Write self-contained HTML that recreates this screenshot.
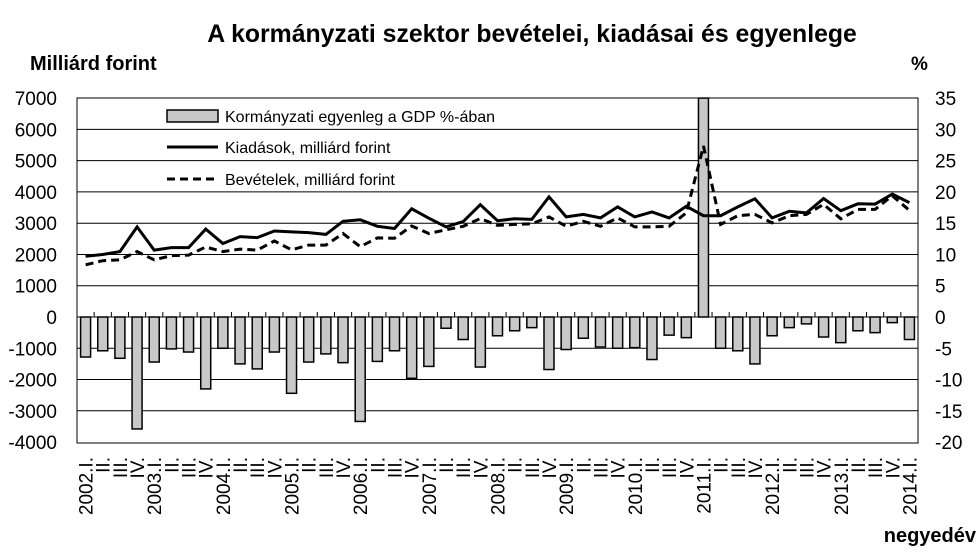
<!DOCTYPE html>
<html><head><meta charset="utf-8"><style>
body{margin:0;background:#fff}
svg{display:block;font-family:"Liberation Sans",Arial,sans-serif}
</style></head><body>
<svg id="s" width="980" height="559" viewBox="0 0 980 559" xmlns="http://www.w3.org/2000/svg">
<text x="532" y="42" text-anchor="middle" font-size="24.8" font-weight="bold">A kormányzati szektor bevételei, kiadásai és egyenlege</text>
<text x="30" y="70" font-size="20" font-weight="bold">Milliárd  forint</text>
<text x="911" y="70" font-size="19" font-weight="bold">%</text>
<text x="976" y="542" text-anchor="end" font-size="20" font-weight="bold">negyedév</text>
<g id="g"></g>
</svg>
<script>
var g=document.getElementById('g'),h='';
var L=77,R=918,T=98,B=443,Z=317,pk=31.27,cw=(R-L)/49;
function y(v){return Z-v/1000*pk}
for(var v=-4000;v<=7000;v+=1000){var yy=y(v);
 if(v!=7000&&v!=-4000)h+='<line x1="'+L+'" x2="'+R+'" y1="'+yy+'" y2="'+yy+'" stroke="#000" stroke-width="1"/>';
 h+='<text x="57" y="'+(yy+7)+'" text-anchor="end" font-size="19">'+v+'</text>';
 h+='<text x="935" y="'+(yy+7)+'" font-size="19">'+(v/200)+'</text>';}
var bars=[-6.4,-5.4,-6.6,-17.9,-7.2,-5.1,-5.6,-11.5,-5.0,-7.5,-8.3,-5.6,-12.2,-7.2,-5.9,-7.3,-16.7,-7.1,-5.4,-9.8,-7.9,-1.8,-3.6,-8.0,-3.0,-2.2,-1.7,-8.4,-5.2,-3.4,-4.8,-5.0,-4.9,-6.8,-2.9,-3.3,35,-5.0,-5.4,-7.5,-3.0,-1.7,-1.1,-3.2,-4.1,-2.2,-2.5,-0.9,-3.6];
var kia=[1940,2000,2090,2880,2140,2220,2220,2810,2350,2570,2540,2750,2720,2700,2640,3060,3110,2900,2830,3460,3160,2880,3050,3590,3080,3140,3120,3840,3200,3280,3170,3520,3200,3360,3170,3540,3240,3240,3520,3780,3170,3380,3330,3790,3400,3620,3610,3930,3660];
var bev=[1670,1800,1830,2090,1830,1960,1980,2240,2090,2170,2140,2430,2150,2300,2300,2670,2250,2530,2520,2910,2670,2790,2900,3150,2930,2960,2980,3200,2900,3060,2900,3170,2880,2880,2900,3330,5470,2960,3240,3280,3010,3240,3280,3600,3140,3440,3440,3880,3410];
var q=['I.','II.','III.','IV.'];
for(var i=0;i<49;i++){var cx=L+cw*(i+.5),bv=bars[i]*200,by=y(bv);
 var ry=Math.min(by,Z),hh=Math.abs(by-Z);
 h+='<rect x="'+(cx-5)+'" y="'+ry+'" width="10" height="'+hh+'" fill="#c8c8c8" stroke="#000" stroke-width="1.5"/>';
 var tx=L+cw*(i+1);h+='<line x1="'+tx+'" x2="'+tx+'" y1="'+(Z-5)+'" y2="'+Z+'" stroke="#000"/>';
 var lab=(i%4==0?(2002+i/4)+'.':'')+q[i%4];
 h+='<text transform="translate('+(cx+7)+',457) rotate(-90)" text-anchor="end" font-size="19">'+lab+'</text>';}
h+='<line x1="'+L+'" x2="'+R+'" y1="'+Z+'" y2="'+Z+'" stroke="#000"/>';
function pl(a){var p='';for(var i=0;i<49;i++)p+=(L+cw*(i+.5)).toFixed(1)+','+y(a[i]).toFixed(1)+' ';return p}
h+='<polyline points="'+pl(kia)+'" fill="none" stroke="#000" stroke-width="3"/>';
h+='<polyline points="'+pl(bev)+'" fill="none" stroke="#000" stroke-width="3" stroke-dasharray="8,5"/>';
h+='<rect x="'+L+'" y="'+T+'" width="'+(R-L)+'" height="'+(B-T)+'" fill="none" stroke="#000" stroke-width="1"/>';
h+='<rect x="167" y="110" width="51" height="12" fill="#c8c8c8" stroke="#000" stroke-width="1.5"/>';
h+='<text x="225" y="122" font-size="16">Kormányzati egyenleg a GDP %-ában</text>';
h+='<line x1="167" x2="218" y1="147" y2="147" stroke="#000" stroke-width="3"/>';
h+='<text x="225" y="153" font-size="16">Kiadások, milliárd forint</text>';
h+='<line x1="167" x2="218" y1="179" y2="179" stroke="#000" stroke-width="3" stroke-dasharray="8,5"/>';
h+='<text x="225" y="185" font-size="16">Bevételek, milliárd forint</text>';
g.innerHTML=h;
</script>
</body></html>
